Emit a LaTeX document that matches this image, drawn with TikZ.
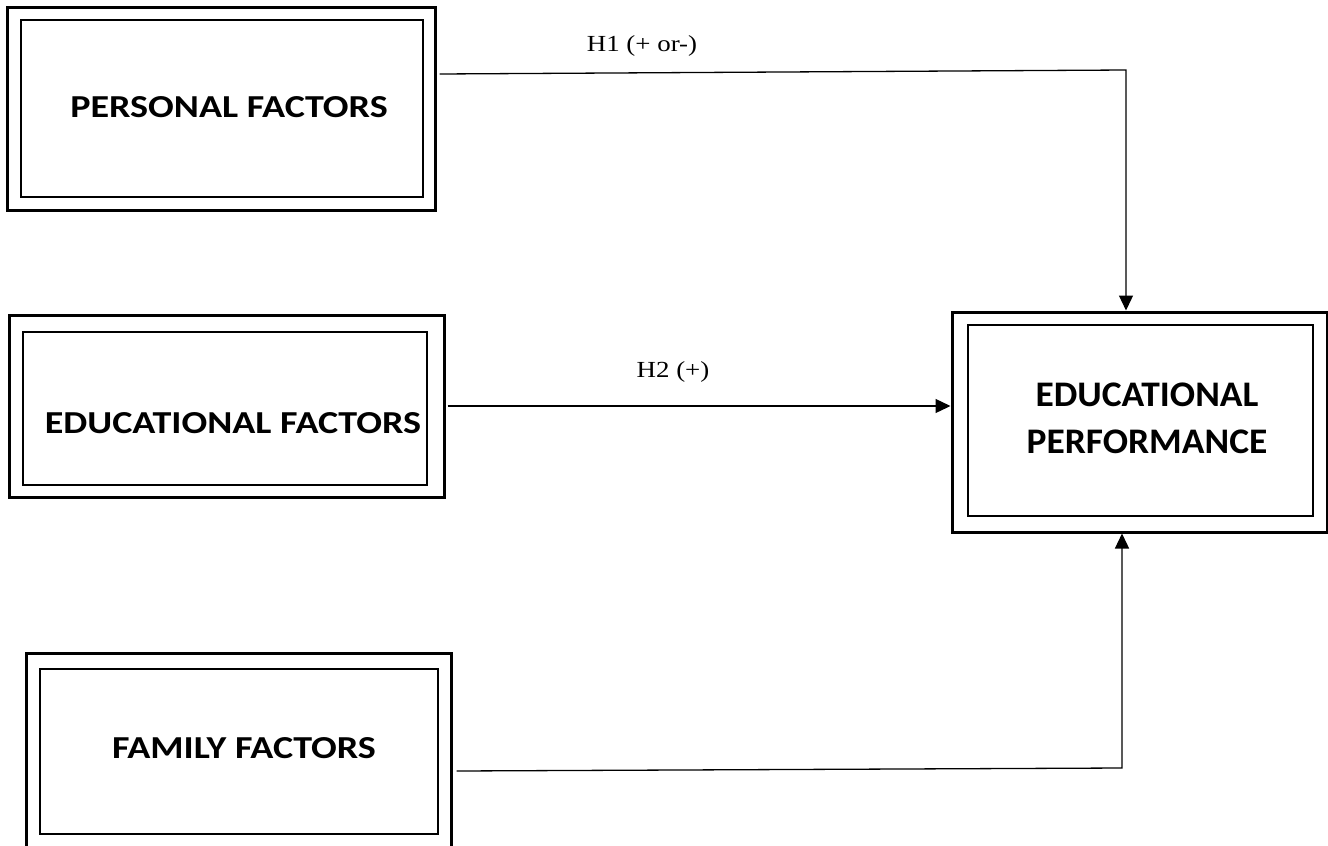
\documentclass[tikz,border=0pt]{standalone}
\usepackage{fontspec}
\setmainfont{Liberation Serif}
\newfontfamily\calfont{Carlito}
\usetikzlibrary{arrows.meta}

% the source text runs a little wide
\newcommand{\xwide}[2]{\scalebox{#1}[1]{#2}}

\tikzset{
  outerbox/.style={draw, line width=3pt, inner sep=0pt},
  innerbox/.style={draw, line width=1.3pt, inner sep=0pt},
  factor/.style={font=\calfont\bfseries\fontsize{32}{38}\selectfont},
  result/.style={font=\calfont\bfseries\fontsize{36}{47}\selectfont, align=center},
  hyp/.style={font=\fontsize{23}{27}\selectfont},
  link/.style={line width=1.3pt, -{Triangle[length=15pt,width=14pt]}},
}

\begin{document}
\begin{tikzpicture}[x=1pt, y=-1pt]
    \useasboundingbox (0,0) rectangle (1328,846);

    % personal factors
    \node[outerbox, minimum width=428pt, minimum height=203pt] (pers) at (221,108.5) {};
    \node[innerbox, minimum width=402pt, minimum height=177pt] (pers-in) at (222,108.5) {};
    \node[factor] (pers-txt) at (229,107) {\xwide{1.19}{PERSONAL FACTORS}};

    % educational factors
    \node[outerbox, minimum width=435pt, minimum height=182pt] (edu) at (226.5,406) {};
    \node[innerbox, minimum width=404pt, minimum height=153pt] (edu-in) at (225,408.5) {};
    \node[factor] (edu-txt) at (233,423) {\xwide{1.19}{EDUCATIONAL FACTORS}};

    % family factors
    \node[outerbox, minimum width=425pt, minimum height=200pt] (fam) at (238.5,753) {};
    \node[innerbox, minimum width=398pt, minimum height=165pt] (fam-in) at (239,751.5) {};
    \node[factor] (fam-txt) at (244,748) {\xwide{1.19}{FAMILY FACTORS}};

    % educational performance
    \node[outerbox, minimum width=375pt, minimum height=220pt] (perf) at (1139.5,422) {};
    \node[innerbox, minimum width=345pt, minimum height=191pt] (perf-in) at (1140.5,420.5) {};
    \node[result] (perf-txt) at (1147,418) {\xwide{1.04}{EDUCATIONAL}\\\xwide{1.04}{PERFORMANCE}};

    % hypotheses
    \coordinate (h1c) at (1126,70);
    \coordinate (h3c) at (1122,768);
    \draw[link] ([shift={(3,-34.5)}]pers.east) -- (h1c) -- (h1c |- perf.north);
    \draw[link] ([xshift=2pt]edu.east) -- (edu.east -| perf.west);
    \draw[link] ([shift={(4,18)}]fam.east) -- (h3c) -- (h3c |- perf.south);

    \node[hyp] (h1) at (642,46) {\xwide{1.17}{H1 (+ or-)}};
    \node[hyp] (h2) at (673,372) {\xwide{1.17}{H2 (+)}};
\end{tikzpicture}
\end{document}
